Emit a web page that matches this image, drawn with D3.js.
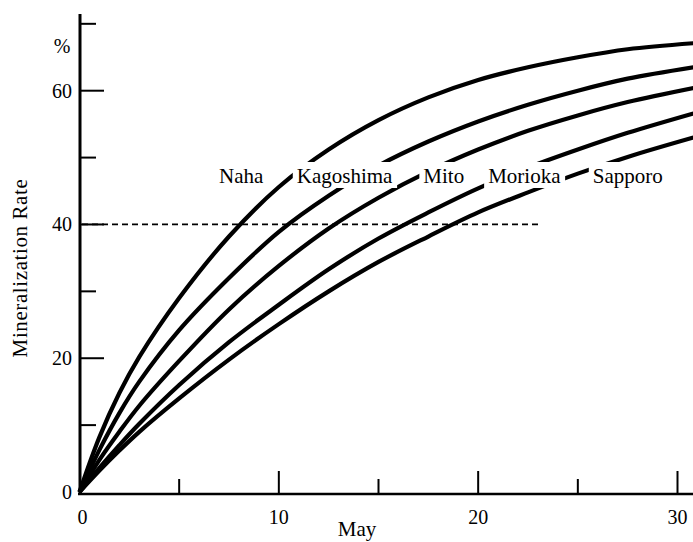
<!DOCTYPE html>
<html>
<head>
<meta charset="utf-8">
<script src="https://cdn.jsdelivr.net/npm/d3@7"></script>
<style>
  body { margin: 0; background: #fff; }
  text { font-family: "Liberation Serif", "Times New Roman", serif; fill: #000; }
</style>
</head>
<body>
<div id="chart"></div>
<script>

var days = [0, 1, 2, 3, 5, 7.5, 10, 12.5, 15, 17.5, 20, 22.5, 25, 27.5, 30.8];

var naha      = [0, 8.2, 14.8, 20.2, 29, 38.2, 45.6, 51.2, 55.6, 59, 61.6, 63.5, 65, 66.2, 67.1];
var kagoshima = [0, 6.3, 11.8, 16.5, 24.2, 32, 38.9, 44.3, 48.8, 52.4, 55.4, 57.9, 60, 61.8, 63.5];
var mito      = [0, 4.8, 9, 12.9, 19.6, 27.3, 33.8, 39.4, 44, 47.9, 51.2, 54, 56.3, 58.3, 60.4];
var morioka   = [0, 3.6, 7, 10.2, 16, 22.4, 28, 33.3, 37.9, 41.8, 45.4, 48.5, 51.2, 53.7, 56.6];
var sapporo   = [0, 3.2, 6.2, 9, 14, 19.8, 25.1, 30, 34.4, 38.2, 41.8, 44.8, 47.6, 50.1, 53];

var seriesNames = ["Naha", "Kagoshima", "Mito", "Morioka", "Sapporo"];
var seriesValues = [naha, kagoshima, mito, morioka, sapporo];

// where each station name sits (day, value of baseline)
var labelDays = [7.0, 10.9, 17.25, 20.5, 25.75];
var labelValue = 46.2;

// 40% reference line runs from day 0 to about day 23
var refValue = 40;
var refEnd = 23.2;

var xTicks = [0, 5, 10, 15, 20, 25, 30];
var xTickLabels = [0, 10, 20, 30];
var yTicks = [10, 20, 30, 40, 50, 60, 70];
var yTickLabels = [0, 20, 40, 60];

var width = 693, height = 542;

var svg = d3.select("#chart").append("svg")
  .attr("width", width)
  .attr("height", height);

var x = d3.scaleLinear().domain([0, 30]).range([79.5, 677.5]);
var y = d3.scaleLinear().domain([0, 60]).range([492, 90.7]);

var yMax = y.invert(14);

// axes
svg.append("line")
  .attr("x1", 80).attr("x2", 80)
  .attr("y1", y(yMax)).attr("y2", 495)
  .attr("stroke", "#000").attr("stroke-width", 3);

svg.append("line")
  .attr("x1", 78).attr("x2", width)
  .attr("y1", 494).attr("y2", 494)
  .attr("stroke", "#000").attr("stroke-width", 2.5);

svg.selectAll(".ytick")
  .data(yTicks)
  .enter().append("line")
  .attr("class", "ytick")
  .attr("x1", 80)
  .attr("x2", function(d) { return d % 20 == 0 ? 104 : 96; })
  .attr("y1", function(d) { return y(d); })
  .attr("y2", function(d) { return y(d); })
  .attr("stroke", "#000").attr("stroke-width", 2);

svg.selectAll(".xtick")
  .data(xTicks.filter(function(d) { return d > 0; }))
  .enter().append("line")
  .attr("class", "xtick")
  .attr("x1", function(d) { return x(d); })
  .attr("x2", function(d) { return x(d); })
  .attr("y1", 494)
  .attr("y2", function(d) { return d % 10 == 0 ? 471 : 479; })
  .attr("stroke", "#000").attr("stroke-width", 2);

svg.selectAll(".ylabel")
  .data(yTickLabels)
  .enter().append("text")
  .attr("class", "ylabel")
  .attr("x", 72)
  .attr("y", function(d) { return y(d) + 7; })
  .attr("text-anchor", "end")
  .style("font-size", "20px")
  .text(function(d) { return d; });

svg.selectAll(".xlabel")
  .data(xTickLabels)
  .enter().append("text")
  .attr("class", "xlabel")
  .attr("x", function(d) { return x(d) + (d == 0 ? 3 : 0); })
  .attr("y", 524)
  .attr("text-anchor", "middle")
  .style("font-size", "20px")
  .text(function(d) { return d; });

svg.append("text")
  .attr("x", 62).attr("y", 53)
  .attr("text-anchor", "middle")
  .style("font-size", "20px")
  .text("%");

svg.append("text")
  .attr("x", 357).attr("y", 536)
  .attr("text-anchor", "middle")
  .style("font-size", "21px")
  .text("May");

svg.append("text")
  .attr("transform", "translate(27,268) rotate(-90)")
  .attr("text-anchor", "middle")
  .style("font-size", "21px")
  .style("letter-spacing", "0.6px")
  .text("Mineralization Rate");

// dashed 40% line
svg.append("line")
  .attr("x1", 82).attr("x2", x(refEnd))
  .attr("y1", y(refValue)).attr("y2", y(refValue))
  .attr("stroke", "#000").attr("stroke-width", 1.8)
  .attr("stroke-dasharray", "6,4");

// curves
var line = d3.line()
  .x(function(d, i) { return x(days[i]); })
  .y(function(d) { return y(d); })
  .curve(d3.curveCatmullRom.alpha(0.5));

svg.selectAll(".curve")
  .data(seriesValues)
  .enter().append("path")
  .attr("class", "curve")
  .attr("d", line)
  .attr("fill", "none")
  .attr("stroke", "#000")
  .attr("stroke-width", 4.2);

// station names cut their curves
var labelGroup = svg.selectAll(".station")
  .data(seriesNames)
  .enter().append("g")
  .attr("class", "station");

labelGroup.append("rect");

labelGroup.append("text")
  .attr("x", function(d, i) { return x(labelDays[i]); })
  .attr("y", y(labelValue))
  .style("font-size", "21px")
  .text(function(d) { return d; });

labelGroup.each(function() {
  var g = d3.select(this);
  var b = g.select("text").node().getBBox();
  g.select("rect")
    .attr("x", b.x - 4)
    .attr("y", b.y - 2)
    .attr("width", b.width + 8)
    .attr("height", b.height + 2)
    .attr("fill", "#fff");
});

</script>
</body>
</html>
